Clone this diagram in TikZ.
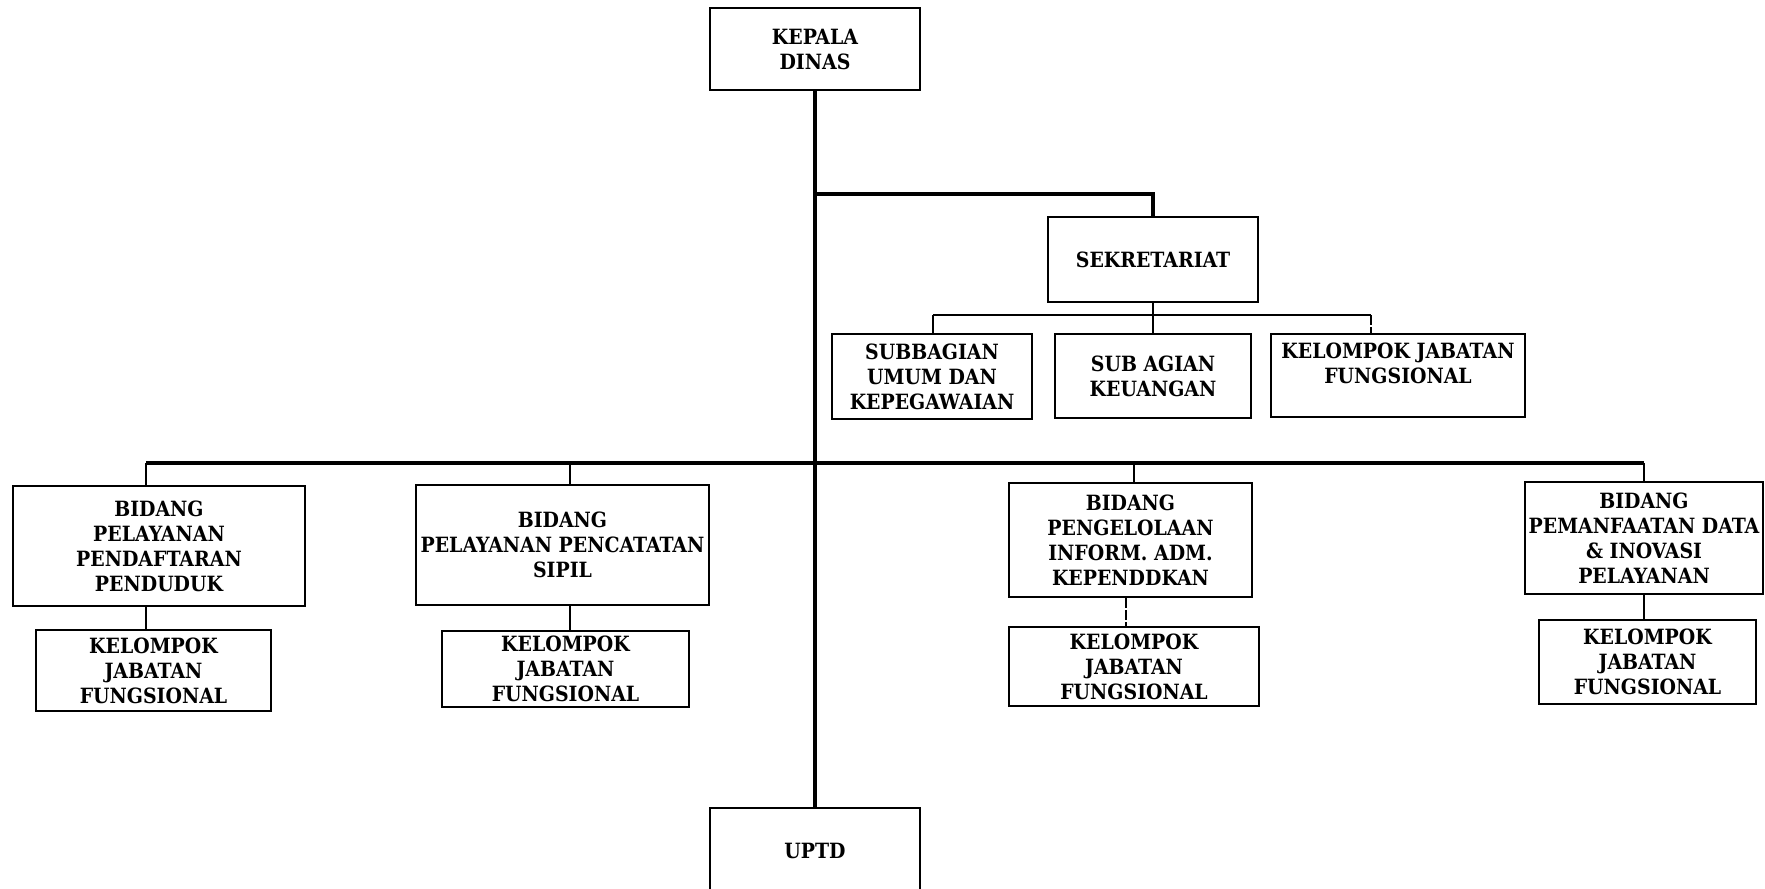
\documentclass[tikz,border=0pt]{standalone}
\usepackage{fontspec}
\setmainfont{DejaVu Serif Condensed}
\begin{document}
\begin{tikzpicture}[x=0.5pt,y=-0.5pt,
  unit/.style={draw, line width=1.2pt, align=center, inner sep=0pt,
    font=\fontsize{10.5}{12.5}\selectfont\bfseries},
  trunk/.style={line width=1.6pt},
  link/.style={line width=0.9pt},
  faint/.style={line width=0.6pt, dash pattern=on 5pt off 1pt}]
\useasboundingbox (0,0) rectangle (1765,888);

% head and staff
\node[unit, minimum width=105pt, minimum height=41pt] (kd) at (815,49) {KEPALA\\DINAS};
\node[unit, minimum width=105pt, minimum height=42.5pt] (sek) at (1153,259.5) {SEKRETARIAT};
\node[unit, minimum width=100pt, minimum height=42.5pt] (sub1) at (932,376.5) {SUBBAGIAN\\UMUM DAN\\KEPEGAWAIAN};
\node[unit, minimum width=98pt, minimum height=42pt] (sub2) at (1153,376) {SUB AGIAN\\KEUANGAN};
\node[unit, minimum width=127pt, minimum height=41.5pt] (sub3) at (1398,375.5) {KELOMPOK JABATAN\\FUNGSIONAL\\\mbox{}};

% fields
\node[unit, minimum width=146pt, minimum height=60pt] (bid1) at (159,546) {BIDANG\\PELAYANAN\\PENDAFTARAN\\PENDUDUK};
\node[unit, minimum width=146.5pt, minimum height=60pt] (bid2) at (562.5,545) {BIDANG\\PELAYANAN PENCATATAN\\SIPIL};
\node[unit, minimum width=121.5pt, minimum height=57pt] (bid3) at (1130.5,540) {BIDANG\\PENGELOLAAN\\INFORM. ADM.\\KEPENDDKAN};
\node[unit, minimum width=119pt, minimum height=56pt] (bid4) at (1644,538) {BIDANG\\PEMANFAATAN DATA\\\& INOVASI\\PELAYANAN};

% functional groups
\node[unit, minimum width=117.5pt, minimum height=40.5pt] (kjf1) at (153.5,670.5) {KELOMPOK\\JABATAN\\FUNGSIONAL};
\node[unit, minimum width=123.5pt, minimum height=38pt] (kjf2) at (565.5,669) {KELOMPOK\\JABATAN\\FUNGSIONAL};
\node[unit, minimum width=125pt, minimum height=39.5pt] (kjf3) at (1134,666.5) {KELOMPOK\\JABATAN\\FUNGSIONAL};
\node[unit, minimum width=108.5pt, minimum height=42pt] (kjf4) at (1647.5,662) {KELOMPOK\\JABATAN\\FUNGSIONAL};

% technical unit
\node[unit, minimum width=105pt, minimum height=43pt] (uptd) at (815,851) {UPTD};

% main trunk and branch to the secretariat
\draw[trunk] (kd.south) -- (uptd.north);
\coordinate (j1) at (815,194);
\draw[trunk] (j1) -| (sek.north);

% secretariat sub-units
\coordinate (j2) at (1153,315);
\coordinate (j3) at (1371,315);
\coordinate (j4) at (933,315);
\draw[link] (sek.south) -- (j2) -- (sub2.north);
\draw[link] (j4) -- (j3);
\draw[link] (j4) -- (j4 |- sub1.north);
\draw[faint] (j3) -- (j3 |- sub3.north);

% field bar
\coordinate (b1) at (146,463);
\coordinate (b2) at (570,463);
\coordinate (b3) at (1134,463);
\coordinate (b4) at (1644,463);
\draw[trunk] (b1) -- (b4);
\draw[link] (b1) -- (b1 |- bid1.north);
\draw[link] (b2) -- (b2 |- bid2.north);
\draw[link] (b3) -- (b3 |- bid3.north);
\draw[link] (b4) -- (b4 |- bid4.north);

% field to functional group
\draw[link] (b1 |- bid1.south) -- (b1 |- kjf1.north);
\draw[link] (b2 |- bid2.south) -- (b2 |- kjf2.north);
\coordinate (c3) at (1126,0);
\draw[faint] (c3 |- bid3.south) -- (c3 |- kjf3.north);
\draw[link] (b4 |- bid4.south) -- (b4 |- kjf4.north);
\end{tikzpicture}
\end{document}
